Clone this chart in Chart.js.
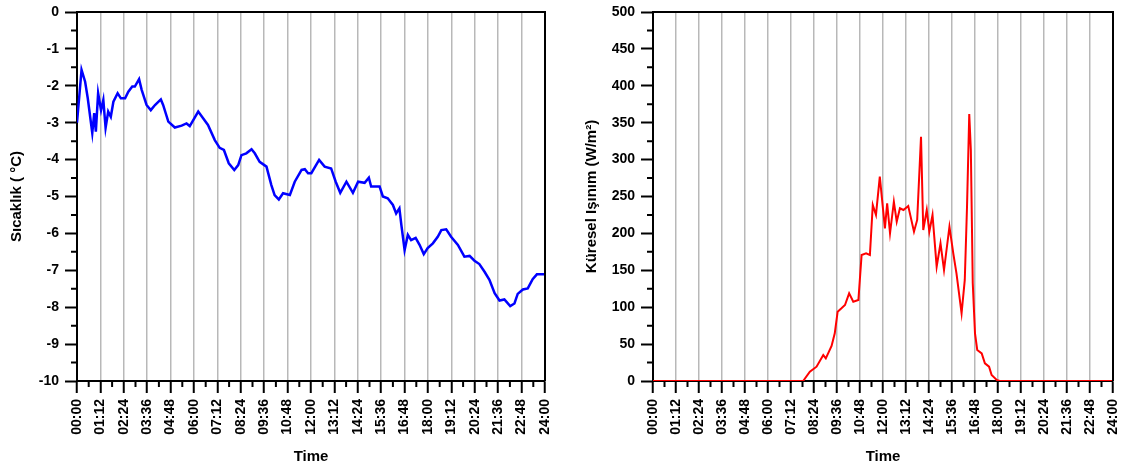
<!DOCTYPE html>
<html>
<head>
<meta charset="utf-8">
<script src="https://cdn.jsdelivr.net/npm/chart.js@4/dist/chart.umd.min.js"></script>
<style>
  body { margin: 0; background: #fff; width: 1128px; height: 472px; overflow: hidden; }
  canvas { position: absolute; top: 0; }
  #chartTemp { left: 0; }
  #chartRad { left: 560px; }
</style>
</head>
<body>
<canvas id="chartTemp" width="558" height="472"></canvas>
<canvas id="chartRad" width="568" height="472"></canvas>
<script>
// time in minutes from 00:00
let tempTimes = [0, 14, 25, 33, 47, 53, 58, 65, 74, 81, 88, 96, 104, 112, 125, 135, 148, 158, 170, 178,
    191, 199, 214, 227, 240, 258, 265, 281, 301, 322, 337, 347, 373, 388, 403, 424, 439, 452, 467, 484,
    496, 506, 521, 537, 547, 562, 583, 598, 608, 621, 634, 655, 670, 691, 701, 711, 721, 745, 762, 782,
    796, 810, 829, 849, 865, 885, 898, 905, 931, 941, 956, 972, 982, 992, 998, 1008, 1018, 1028, 1042, 1054,
    1067, 1079, 1095, 1110, 1121, 1136, 1151, 1172, 1192, 1208, 1223, 1238, 1254, 1269, 1285, 1300, 1315, 1333, 1346, 1356,
    1372, 1387, 1402, 1415, 1440];
let tempValues = [-3.0, -1.57, -1.89, -2.33, -3.28, -2.74, -3.24, -2.2, -2.66, -2.38, -3.14, -2.7, -2.84, -2.43, -2.2, -2.34, -2.34, -2.16, -2.02, -2.02,
    -1.82, -2.11, -2.52, -2.66, -2.52, -2.37, -2.52, -2.97, -3.13, -3.08, -3.02, -3.09, -2.7, -2.88, -3.06, -3.47, -3.68, -3.74, -4.1, -4.28,
    -4.15, -3.88, -3.83, -3.72, -3.83, -4.06, -4.19, -4.69, -4.96, -5.08, -4.91, -4.96, -4.6, -4.28, -4.26, -4.37, -4.37, -4.01, -4.19, -4.24,
    -4.6, -4.9, -4.6, -4.9, -4.6, -4.63, -4.49, -4.73, -4.73, -5.0, -5.05, -5.23, -5.46, -5.32, -5.77, -6.45, -6.04, -6.18, -6.12, -6.31,
    -6.56, -6.4, -6.27, -6.09, -5.91, -5.89, -6.09, -6.31, -6.63, -6.61, -6.74, -6.83, -7.04, -7.26, -7.62, -7.82, -7.79, -7.97, -7.9, -7.64,
    -7.52, -7.49, -7.24, -7.11, -7.11];

let radTimes = [0, 470, 491, 512, 533, 541, 559, 569, 578, 590, 601, 614, 627, 643, 653, 667, 679, 688, 698, 710,
    726, 733, 742, 754, 763, 773, 784, 799, 817, 827, 839, 846, 857, 865, 875, 888, 900, 911, 928, 940,
    950, 966, 976, 983, 990, 995, 1001, 1008, 1015, 1029, 1039, 1052, 1060, 1076, 1085, 1440];
let radValues = [0, 0, 12.6, 19.4, 35.2, 30.7, 47.4, 64.6, 93.9, 98.5, 103, 118.8, 107.5, 109.8, 170.7, 173, 170.7, 238.5, 225, 276.8,
    206.9, 240.7, 200.1, 242.9, 215.8, 234, 231.7, 237.1, 202.3, 218.2, 331, 204.6, 231.7, 202.3, 225, 154.9, 186.6, 150.4, 209.1, 173,
    145.9, 91.7, 136.9, 236.2, 361.8, 313, 132.4, 64.6, 42, 37.5, 24, 19.4, 8.1, 1.4, 0, 0];

let xTickStep = 72;
let tempAxis = { min: -10, max: 0, step: 1, title: "Sıcaklık ( °C)" };
let radAxis = { min: 0, max: 500, step: 50, title: "Küresel Işınım (W/m²)" };

function fmtTime(v)
{
    let h = Math.floor(v / 60);
    let m = Math.round(v % 60);
    return String(h).padStart(2, "0") + ":" + String(m).padStart(2, "0");
}

function toPoints(xs, ys)
{
    return xs.map(function(x, i) { return { x: x, y: ys[i] }; });
}

// minor ticks half way between the major ones + top/right frame
let frameAndMinor = {
    id: "frameAndMinor",
    afterDraw: function(chart) {
        let ctx = chart.ctx;
        let a = chart.chartArea;
        let xs = chart.scales.x;
        let ys = chart.scales.y;
        ctx.save();
        ctx.strokeStyle = "#000";
        ctx.lineWidth = 2;
        ctx.beginPath();
        ctx.moveTo(a.left, a.top);
        ctx.lineTo(a.right, a.top);
        ctx.lineTo(a.right, a.bottom);
        ctx.stroke();

        ctx.beginPath();
        for (let v = xs.min + xTickStep / 2; v < xs.max; v += xTickStep) {
            let px = xs.getPixelForValue(v);
            ctx.moveTo(px, a.bottom);
            ctx.lineTo(px, a.bottom + 6);
        }
        let st = chart.options.scales.y.ticks.stepSize;
        for (let v = ys.min + st / 2; v < ys.max; v += st) {
            let py = ys.getPixelForValue(v);
            ctx.moveTo(a.left, py);
            ctx.lineTo(a.left - 6, py);
        }
        ctx.stroke();
        ctx.restore();
    }
};

function makeChart(id, xs, ys, color, lineW, axis, pad, yWidth)
{
    let tickFont = { family: "'Liberation Sans', Arial, sans-serif", size: 14, weight: "bold" };
    let titleFont = { family: "'Liberation Sans', Arial, sans-serif", size: 15, weight: "bold" };
    return new Chart(document.getElementById(id), {
        type: "line",
        data: {
            datasets: [{
                data: toPoints(xs, ys),
                borderColor: color,
                borderWidth: lineW,
                pointRadius: 0,
                tension: 0,
                fill: false
            }]
        },
        options: {
            responsive: false,
            animation: false,
            layout: { padding: pad },
            plugins: { legend: { display: false }, tooltip: { enabled: false } },
            scales: {
                x: {
                    type: "linear",
                    min: 0,
                    max: 1440,
                    afterFit: function(s) { s.height = 91; s.paddingLeft = 0; s.paddingRight = 0; },
                    ticks: {
                        stepSize: xTickStep,
                        autoSkip: false,
                        minRotation: 90,
                        maxRotation: 90,
                        padding: 6,
                        color: "#000",
                        font: tickFont,
                        callback: function(v) { return fmtTime(v); }
                    },
                    grid: {
                        color: "rgba(0,0,0,0.28)",
                        lineWidth: 1.5,
                        tickColor: "#000",
                        tickLength: 12,
                        tickWidth: 2
                    },
                    border: { color: "#000", width: 2 },
                    title: {
                        display: true,
                        text: "Time",
                        color: "#000",
                        font: titleFont,
                        padding: { top: 0, bottom: 6 }
                    }
                },
                y: {
                    min: axis.min,
                    max: axis.max,
                    afterFit: function(s) { s.width = yWidth; s.paddingTop = 0; s.paddingBottom = 0; },
                    ticks: {
                        stepSize: axis.step,
                        padding: 6,
                        color: "#000",
                        font: tickFont
                    },
                    grid: {
                        drawOnChartArea: false,
                        tickColor: "#000",
                        tickLength: 12,
                        tickWidth: 2
                    },
                    border: { color: "#000", width: 2 },
                    title: {
                        display: true,
                        text: axis.title,
                        color: "#000",
                        font: titleFont,
                        padding: { top: 0, bottom: 0 }
                    }
                }
            }
        },
        plugins: [frameAndMinor]
    });
}

makeChart("chartTemp", tempTimes, tempValues, "#0000ff", 2.5, tempAxis, { left: 8, top: 12, right: 13, bottom: 0 }, 69);
makeChart("chartRad", radTimes, radValues, "#ff0000", 2, radAxis, { left: 23, top: 12, right: 15, bottom: 0 }, 70);
</script>
</body>
</html>
